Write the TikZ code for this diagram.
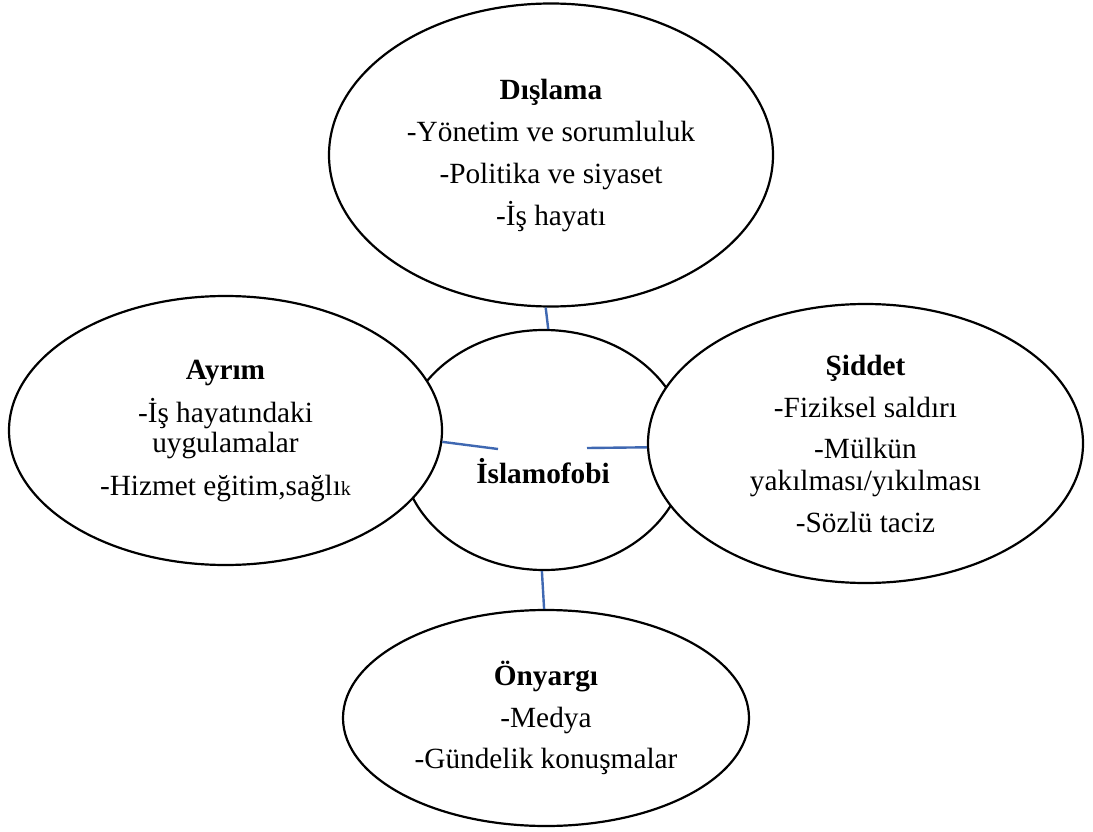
\documentclass[tikz,border=0pt]{standalone}
\usepackage{fontspec}
\setmainfont{Liberation Serif}
\usetikzlibrary{shapes.geometric}
\definecolor{linkblue}{HTML}{3F68B2}
\tikzset{
  bub/.style={ellipse, draw=black, line width=2.2pt, fill=white, inner sep=0pt,
    align=center, font=\fontsize{29.3}{32}\selectfont},
  conn/.style={draw=linkblue, line width=2.4pt},
  lbl/.style={inner sep=0pt, font=\fontsize{29.3}{32}\selectfont\bfseries}
}
\begin{document}
\begin{tikzpicture}[x=1pt,y=-1pt]
\fill[white] (0,0) rectangle (1093,832);
\useasboundingbox (0,0) rectangle (1093,832);
% centre circle
\node[bub, minimum width=286, minimum height=240] (c) at (544,450) {};
\node[lbl] (ctext) at (543,471) {İslamofobi};
% outer ellipses
\node[bub, minimum width=444, minimum height=303] (top) at (551,155)
  {\textbf{Dışlama}\\[10pt]-Yönetim ve sorumluluk\\[10pt]-Politika ve siyaset\\[10pt]-İş hayatı};
\node[bub, minimum width=433, minimum height=269] (L) at (225.5,430.5)
  {\textbf{Ayrım}\\[11pt]-İş hayatındaki\\[-2pt]uygulamalar\\[11pt]-Hizmet eğitim,sağlı{\fontsize{20}{32}\selectfont k}};
\node[bub, minimum width=435, minimum height=279] (R) at (865.5,443.5)
  {\textbf{Şiddet}\\[10pt]-Fiziksel saldırı\\[9pt]-Mülkün\\[0pt]yakılması/yıkılması\\[10pt]-Sözlü taciz};
\node[bub, minimum width=406, minimum height=216] (B) at (546,718)
  {\textbf{Önyargı}\\[10pt]-Medya\\[9pt]-Gündelik konuşmalar};
% connectors
\coordinate (lend) at (498,449);
\coordinate (rend) at (587,448);
\draw[conn] (top.268.9) -- (c.88.1);
\draw[conn] (L.-3.9) -- (lend);
\draw[conn] (rend) -- (R.181);
\draw[conn] (c.269.5) -- (B.91.6);
\end{tikzpicture}
\end{document}
